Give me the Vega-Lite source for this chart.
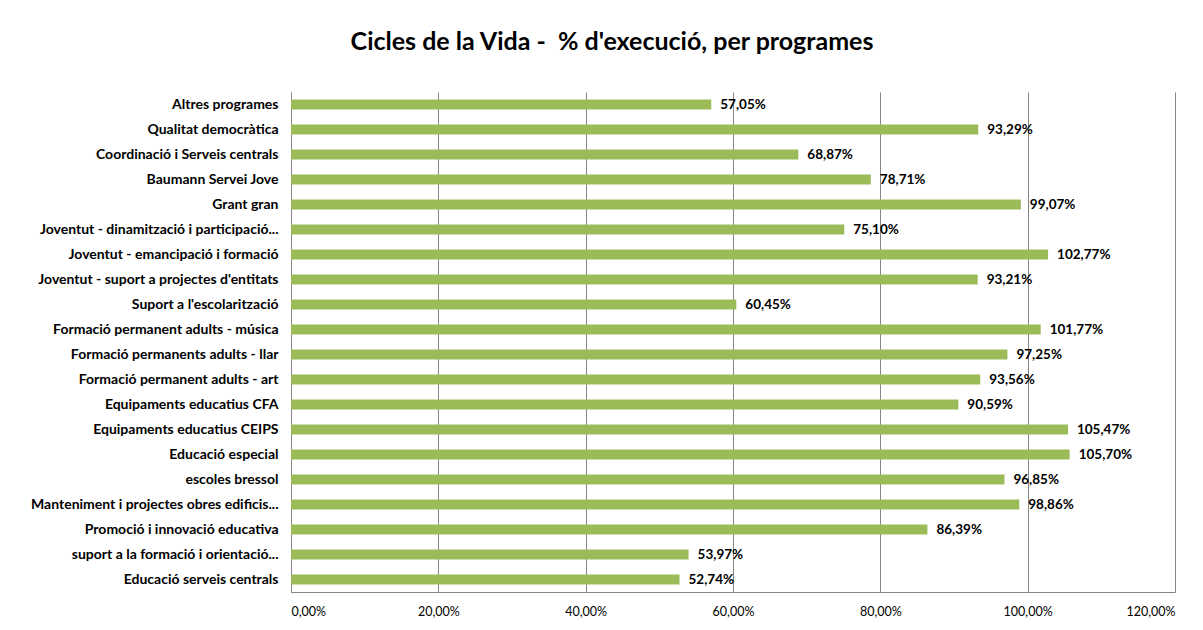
{
  "$schema": "https://vega.github.io/schema/vega-lite/v6.json",
  "autosize": "none",
  "width": 884,
  "height": 500,
  "padding": {"left": 291, "top": 92, "right": 28, "bottom": 38},
  "background": "white",
  "title": {
    "text": "Cicles de la Vida - \u00a0% d'execució, per programes",
    "font": "Lato",
    "fontSize": 25,
    "fontWeight": "bold",
    "color": "#000000",
    "anchor": "middle",
    "dx": -121,
    "offset": 37
  },
  "data": {
    "values": [
      {"programa": "Altres programes", "pct": 57.05},
      {"programa": "Qualitat democràtica", "pct": 93.29},
      {"programa": "Coordinació i Serveis centrals", "pct": 68.87},
      {"programa": "Baumann Servei Jove", "pct": 78.71},
      {"programa": "Grant gran", "pct": 99.07},
      {"programa": "Joventut - dinamització i participació...", "pct": 75.10},
      {"programa": "Joventut - emancipació i formació", "pct": 102.77},
      {"programa": "Joventut - suport a projectes d'entitats", "pct": 93.21},
      {"programa": "Suport a l'escolarització", "pct": 60.45},
      {"programa": "Formació permanent adults - música", "pct": 101.77},
      {"programa": "Formació permanents adults - llar", "pct": 97.25},
      {"programa": "Formació permanent adults - art", "pct": 93.56},
      {"programa": "Equipaments educatius CFA", "pct": 90.59},
      {"programa": "Equipaments educatius CEIPS", "pct": 105.47},
      {"programa": "Educació especial", "pct": 105.70},
      {"programa": "escoles bressol", "pct": 96.85},
      {"programa": "Manteniment i projectes obres edificis...", "pct": 98.86},
      {"programa": "Promoció i innovació educativa", "pct": 86.39},
      {"programa": "suport a la formació i orientació...", "pct": 53.97},
      {"programa": "Educació serveis centrals", "pct": 52.74}
    ]
  },
  "encoding": {
    "y": {
      "field": "programa",
      "type": "nominal",
      "sort": null,
      "scale": {"paddingInner": 0.6, "paddingOuter": 0.3},
      "axis": {
        "title": null,
        "ticks": false,
        "labelFont": "Lato",
        "labelFontSize": 14,
        "labelFontWeight": "bold",
        "labelColor": "#000000",
        "labelPadding": 13,
        "labelLimit": 300,
        "domainColor": "#868686",
        "domainWidth": 1
      }
    },
    "x": {
      "field": "pct",
      "type": "quantitative",
      "scale": {"domain": [0, 120], "nice": false},
      "axis": {
        "title": null,
        "values": [0, 20, 40, 60, 80, 100, 120],
        "labelExpr": "replace(format(datum.value, '.2f'), '.', ',') + '%'",
        "ticks": false,
        "labelFont": "Lato",
        "labelFontSize": 12.5,
        "labelColor": "#000000",
        "labelPadding": 13,
        "grid": true,
        "gridColor": "#868686",
        "gridWidth": 1,
        "domainColor": "#868686",
        "domainWidth": 1
      }
    }
  },
  "layer": [
    {
      "mark": {"type": "bar", "color": "#9BBB59"}
    },
    {
      "mark": {
        "type": "text",
        "align": "left",
        "baseline": "middle",
        "dx": 9,
        "font": "Lato",
        "fontSize": 13.5,
        "fontWeight": "bold",
        "color": "#000000",
        "text": {"expr": "replace(format(datum.pct, '.2f'), '.', ',') + '%'"}
      }
    }
  ],
  "config": {
    "view": {"stroke": null}
  }
}
